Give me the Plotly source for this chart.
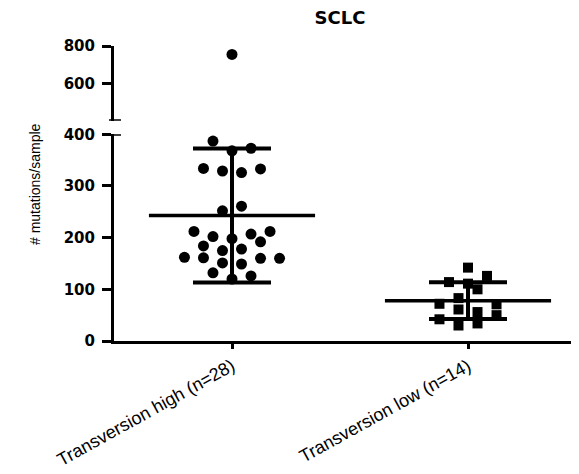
import numpy as np
import plotly.graph_objects as go

# ---------------- data ----------------
categories = ["Transversion high (n=28)", "Transversion low (n=14)"]
# values listed row by row, left to right as they appear in each swarm row
high_values = [132, 120, 126,
               162, 161, 151, 149, 160, 160,
               184, 175, 178, 192,
               212, 202, 198, 207, 212,
               252, 261,
               334, 329, 326, 333,
               387, 368, 373,
               755]
low_values = [42, 30, 34, 50,
              72, 61, 56, 71,
              83, 100,
              114, 111, 126,
              142]
lower_ticks = [0, 100, 200, 300, 400]
upper_ticks = [600, 800]
chart_title = "SCLC"
y_title = "# mutations/sample"

# ---------------- helpers ----------------
ROW_HEIGHT = 20      # values within this band share a swarm row
SLOT = 0.0403        # horizontal slot width (category units)
BREAK = 400          # axis break value
TOP = 800
PAGE = 8             # default page margin of the html body


def swarm_offsets(values, row_height=ROW_HEIGHT, step=SLOT):
    order = sorted(range(len(values)), key=lambda i: values[i])
    rows, current, start = [], [], None
    for i in order:
        if start is None or values[i] - start > row_height:
            if current:
                rows.append(current)
            current, start = [i], values[i]
        else:
            current.append(i)
    if current:
        rows.append(current)
    offs = [0.0] * len(values)
    for row in rows:
        row = sorted(row)
        n = len(row)
        for k, i in enumerate(row):
            offs[i] = (2 * k - (n - 1)) * step
    return offs


groups = [high_values, low_values]
symbols = ["circle", "square"]
sizes = [11, 10]

fig = go.Figure()

MEAN_HALF = 0.352
for gi, vals in enumerate(groups):
    pos = gi + 1
    arr = np.array(vals, dtype=float)
    mean = arr.mean()
    sd = arr.std(ddof=1)
    offs = swarm_offsets(vals)
    xs = [pos + o for o in offs]
    lo_x = [x for x, v in zip(xs, vals) if v <= BREAK]
    lo_y = [v for v in vals if v <= BREAK]
    hi_x = [x for x, v in zip(xs, vals) if v > BREAK]
    hi_y = [v for v in vals if v > BREAK]
    fig.add_trace(go.Scatter(x=[pos - MEAN_HALF, pos + MEAN_HALF], y=[mean, mean],
                             mode="lines", line=dict(color="black", width=3.5),
                             yaxis="y", xaxis="x", showlegend=False, hoverinfo="skip"))
    fig.add_trace(go.Scatter(x=[pos], y=[mean], mode="markers",
                             marker=dict(size=1, color="black"),
                             error_y=dict(type="data", array=[sd], visible=True,
                                          color="black", thickness=4, width=39),
                             yaxis="y", xaxis="x", showlegend=False, hoverinfo="skip"))
    fig.add_trace(go.Scatter(x=lo_x, y=lo_y, mode="markers",
                             marker=dict(symbol=symbols[gi], size=sizes[gi], color="black",
                                         line=dict(width=0)),
                             yaxis="y", xaxis="x", showlegend=False))
    if hi_y:
        fig.add_trace(go.Scatter(x=hi_x, y=hi_y, mode="markers",
                                 marker=dict(symbol=symbols[gi], size=sizes[gi], color="black",
                                             line=dict(width=0)),
                                 yaxis="y2", xaxis="x", showlegend=False))

W, H = 579 - PAGE, 474 - PAGE
ML, MR, MT, MB = 106, 0, 38, 133
plot_h = H - MT - MB
plot_w = W - ML - MR
cat1_px, cat2_px = 224, 460          # category centres (figure px)
per_cat = cat2_px - cat1_px

bottom_px = H - MB                    # figure px of value 0
lower_top_px = 134.3 - PAGE
upper_bottom_px = 120.7 - PAGE

tick_font = dict(family="DejaVu Sans", size=15, color="black", weight="bold")
axis_common = dict(showline=True, linecolor="black", linewidth=3, ticks="outside",
                   ticklen=9, tickwidth=3, tickcolor="black", showgrid=False,
                   zeroline=False, tickfont=tick_font, fixedrange=True, automargin=False,
                   ticklabelstandoff=4)

fig.update_layout(
    template="none",
    width=W, height=H,
    margin=dict(l=ML, r=MR, t=MT, b=MB, pad=0, autoexpand=False),
    paper_bgcolor="white", plot_bgcolor="white",
    title=dict(text=chart_title, x=332 / W, xref="container", xanchor="center",
               y=1 - 9.5 / H, yref="container", yanchor="middle",
               font=dict(family="DejaVu Sans", size=18, color="black", weight="bold")),
    xaxis=dict(range=[1 - (cat1_px - ML) / per_cat, 2 + (W - MR - cat2_px) / per_cat],
               tickvals=[1, 2], ticktext=categories, tickangle=-29,
               showline=True, linecolor="black", linewidth=3, ticks="outside",
               ticklen=5, tickwidth=3, tickcolor="black", showgrid=False, zeroline=False,
               tickfont=dict(family="Liberation Sans", size=18, color="black"),
               anchor="y", fixedrange=True, automargin=False),
    yaxis=dict(domain=[0, (bottom_px - lower_top_px) / plot_h], range=[0, BREAK],
               tickvals=lower_ticks, anchor="x", **axis_common),
    yaxis2=dict(domain=[(bottom_px - upper_bottom_px) / plot_h, 1], range=[BREAK, TOP],
                tickvals=upper_ticks, anchor="x", **axis_common),
    shapes=[
        dict(type="line", xref="paper", xsizemode="pixel", xanchor=0, x0=-5, x1=7,
             yref="y2", y0=BREAK, y1=BREAK, line=dict(color="black", width=3)),
        dict(type="line", xref="paper", xsizemode="pixel", xanchor=0, x0=-5, x1=7,
             yref="y", y0=BREAK, y1=BREAK, line=dict(color="black", width=3)),
    ],
    annotations=[
        dict(text=y_title, textangle=-90, xref="paper", yref="paper",
             x=(27 - ML) / plot_w, y=(bottom_px - 176) / plot_h,
             xanchor="center", yanchor="middle", showarrow=False,
             font=dict(family="Liberation Sans", size=14, color="black")),
    ],
    showlegend=False,
)

fig.write_html("out.html")
